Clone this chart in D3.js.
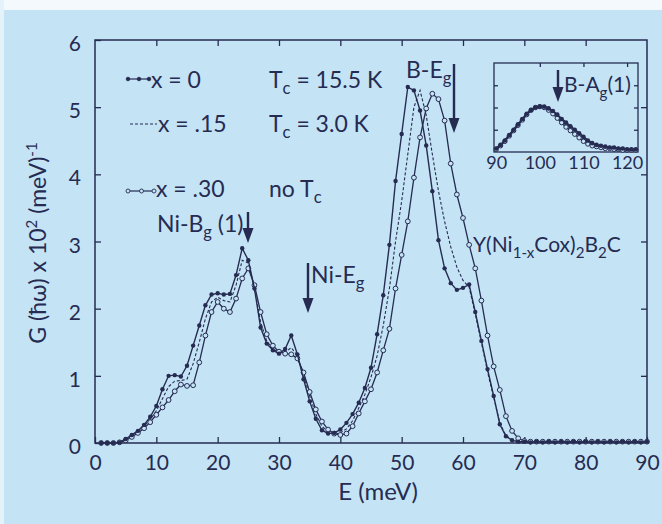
<!DOCTYPE html>
<html>
<head>
<meta charset="utf-8">
<script src="https://cdn.jsdelivr.net/npm/d3@7"></script>
<style>
  html, body { margin: 0; padding: 0; background: #c4e4f5; }
  svg { display: block; font-family: Lato, "Noto Sans", sans-serif; }
</style>
</head>
<body>
<svg id="chart" width="662" height="524"></svg>
<script>
// Phonon density of states G(E) for Y(Ni1-xCox)2B2C, E = 1..90 meV
const energy = d3.range(1, 91);

const gX000 = [
  0.00, 0.00, 0.00, 0.01, 0.06, 0.12, 0.18, 0.27, 0.39, 0.55,
  0.80, 1.00, 1.01, 0.99, 1.15, 1.45, 1.75, 2.05, 2.21, 2.23,
  2.21, 2.22, 2.50, 2.90, 2.72, 2.30, 1.72, 1.48, 1.38, 1.33,
  1.40, 1.60, 1.32, 0.95, 0.62, 0.36, 0.19, 0.14, 0.15, 0.20,
  0.30, 0.43, 0.60, 0.82, 1.12, 1.62, 2.20, 2.95, 3.90, 4.60,
  5.30, 5.25, 4.95, 4.43, 3.75, 3.02, 2.60, 2.38, 2.28, 2.31,
  2.36, 1.95, 1.52, 1.10, 0.70, 0.28, 0.10, 0.04, 0.02, 0.02,
  0.01, 0.02, 0.01, 0.02, 0.01, 0.02, 0.01, 0.02, 0.01, 0.02,
  0.01, 0.02, 0.01, 0.02, 0.01, 0.02, 0.01, 0.02, 0.01, 0.02
];

const gX015 = [
  0.00, 0.00, 0.00, 0.01, 0.05, 0.11, 0.17, 0.25, 0.35, 0.48,
  0.66, 0.84, 0.92, 0.93, 0.95, 1.18, 1.50, 1.85, 2.10, 2.17,
  2.12, 2.10, 2.35, 2.72, 2.68, 2.30, 1.80, 1.52, 1.40, 1.35,
  1.35, 1.42, 1.30, 1.00, 0.70, 0.43, 0.25, 0.16, 0.13, 0.15,
  0.21, 0.33, 0.52, 0.72, 0.98, 1.30, 1.75, 2.30, 3.00, 3.60,
  4.30, 5.00, 5.25, 4.88, 4.30, 3.75, 3.30, 2.92, 2.62, 2.42,
  2.32, 1.92, 1.50, 1.06, 0.68, 0.30, 0.11, 0.05, 0.02, 0.01,
  0.01, 0.01, 0.01, 0.01, 0.01, 0.01, 0.01, 0.01, 0.01, 0.01,
  0.01, 0.01, 0.01, 0.01, 0.01, 0.01, 0.01, 0.01, 0.01, 0.01
];

const gX030 = [
  0.00, 0.00, 0.00, 0.01, 0.04, 0.09, 0.15, 0.22, 0.31, 0.42,
  0.53, 0.64, 0.77, 0.87, 0.85, 0.86, 1.20, 1.60, 1.95, 2.10,
  2.00, 1.95, 2.15, 2.45, 2.60, 2.35, 1.95, 1.62, 1.45, 1.36,
  1.33, 1.32, 1.26, 1.05, 0.76, 0.50, 0.32, 0.20, 0.14, 0.12,
  0.14, 0.25, 0.44, 0.62, 0.80, 1.05, 1.38, 1.70, 2.30, 2.80,
  3.30, 3.95, 4.55, 4.98, 5.20, 5.12, 4.80, 4.16, 3.70, 3.35,
  2.95, 2.60, 2.12, 1.60, 1.14, 0.79, 0.40, 0.18, 0.07, 0.03,
  0.02, 0.02, 0.02, 0.02, 0.02, 0.02, 0.02, 0.02, 0.02, 0.02,
  0.02, 0.02, 0.02, 0.02, 0.02, 0.02, 0.02, 0.02, 0.02, 0.02
];

// B-Ag(1) region shown in the inset, E = 90..122 meV (relative units)
const insetEnergy = d3.range(90, 123);
const insetX000 = [
  0.04, 0.08, 0.13, 0.19, 0.25, 0.31, 0.37, 0.43, 0.47, 0.50,
  0.51, 0.51, 0.49, 0.46, 0.42, 0.37, 0.33, 0.29, 0.25, 0.21,
  0.17, 0.13, 0.10, 0.08, 0.07, 0.06, 0.05, 0.05, 0.04, 0.04,
  0.03, 0.03, 0.03
];
const insetX030 = [
  0.03, 0.07, 0.12, 0.18, 0.24, 0.30, 0.36, 0.42, 0.47, 0.50,
  0.51, 0.50, 0.47, 0.43, 0.38, 0.33, 0.28, 0.24, 0.20, 0.16,
  0.12, 0.09, 0.07, 0.06, 0.05, 0.04, 0.04, 0.03, 0.03, 0.02,
  0.02, 0.02, 0.02
];

const xTicks = [0, 10, 20, 30, 40, 50, 60, 70, 80, 90];
const yTicks = [0, 1, 2, 3, 4, 5, 6];
const insetTicks = [90, 100, 110, 120];

const INK = "#262b52";
const BG = "#c4e4f5";

const svg = d3.select("#chart");

// paper edges
svg.append("rect").attr("width", 662).attr("height", 524).attr("fill", BG);
svg.append("rect").attr("width", 662).attr("height", 10).attr("fill", "#f3f9fc");
svg.append("rect").attr("width", 4).attr("height", 524).attr("fill", "#e4f2fa");

const plot = { left: 95, right: 647, top: 40, bottom: 443 };
const x = d3.scaleLinear().domain([0, 90]).range([plot.left, plot.right]);
const y = d3.scaleLinear().domain([0, 6]).range([plot.bottom, plot.top]);
const intFmt = d3.format("d");

// frame
svg.append("rect")
  .attr("x", plot.left).attr("y", plot.top)
  .attr("width", plot.right - plot.left).attr("height", plot.bottom - plot.top)
  .attr("fill", "none").attr("stroke", INK).attr("stroke-width", 1.5);

// axes with inward ticks
const axisStyle = g => {
  g.select(".domain").remove();
  g.selectAll(".tick line").attr("stroke", INK).attr("stroke-width", 1.3);
  g.selectAll(".tick text").attr("fill", INK).attr("font-size", 21).attr("font-family", "Lato, sans-serif");
};
svg.append("g").attr("transform", `translate(0,${plot.bottom})`)
  .call(d3.axisBottom(x).tickValues(xTicks).tickFormat(intFmt).tickSizeInner(-6).tickSizeOuter(0).tickPadding(12))
  .call(axisStyle);
svg.append("g").attr("transform", `translate(0,${plot.top})`)
  .call(d3.axisTop(x).tickValues(xTicks.slice(1, -1)).tickSizeInner(-6).tickSizeOuter(0).tickFormat(""))
  .call(axisStyle);
svg.append("g").attr("transform", `translate(${plot.left},0)`)
  .call(d3.axisLeft(y).tickValues(yTicks).tickFormat(intFmt).tickSizeInner(-6).tickSizeOuter(0).tickPadding(14))
  .call(axisStyle)
  .call(g => g.selectAll(".tick text").attr("dy", "0.5em"));
svg.append("g").attr("transform", `translate(${plot.right},0)`)
  .call(d3.axisRight(y).tickValues(yTicks.slice(1, -1)).tickSizeInner(-6).tickSizeOuter(0).tickFormat(""))
  .call(axisStyle);

// axis titles
svg.append("text").attr("x", 378).attr("y", 500).attr("text-anchor", "middle")
  .attr("fill", INK).attr("font-size", 24).text("E (meV)");

const yTitle = svg.append("text")
  .attr("transform", "translate(46,243) rotate(-90)")
  .attr("text-anchor", "middle").attr("fill", INK).attr("font-size", 23);
yTitle.append("tspan").text("G (\u0127\u03C9) x 10");
yTitle.append("tspan").attr("dy", -9).attr("font-size", 15).text("2");
yTitle.append("tspan").attr("dy", 9).text(" (meV)");
yTitle.append("tspan").attr("dy", -9).attr("font-size", 15).text("-1");

// series
const line = (xs, ys, sx, sy) => d3.line().x((d, i) => sx(xs[i])).y(d => sy(d))(ys);

svg.append("path").attr("d", line(energy, gX015, x, y))
  .attr("fill", "none").attr("stroke", INK).attr("stroke-width", 1.1)
  .attr("stroke-dasharray", "3,2");

svg.append("path").attr("d", line(energy, gX030, x, y))
  .attr("fill", "none").attr("stroke", INK).attr("stroke-width", 1.3);
svg.append("g").selectAll("circle").data(gX030).join("circle")
  .attr("cx", (d, i) => x(energy[i])).attr("cy", d => y(d)).attr("r", 2.4)
  .attr("fill", BG).attr("stroke", INK).attr("stroke-width", 1);

svg.append("path").attr("d", line(energy, gX000, x, y))
  .attr("fill", "none").attr("stroke", INK).attr("stroke-width", 1.4);
svg.append("g").selectAll("circle").data(gX000).join("circle")
  .attr("cx", (d, i) => x(energy[i])).attr("cy", d => y(d)).attr("r", 2.2)
  .attr("fill", INK);

// arrows marking modes
function arrow(px, y0, y1) {
  svg.append("line").attr("x1", px).attr("x2", px).attr("y1", y0).attr("y2", y1 - 12)
    .attr("stroke", INK).attr("stroke-width", 2.4);
  svg.append("path").attr("d", `M${px - 5.5},${y1 - 15} L${px + 5.5},${y1 - 15} L${px},${y1} Z`)
    .attr("fill", INK);
}
arrow(248, 212, 243);
arrow(308, 263, 313);
arrow(454, 64, 133);

// text with subscripts
function label(px, py, parts, size) {
  const t = svg.append("text").attr("x", px).attr("y", py).attr("fill", INK).attr("font-size", size);
  let shift = 0;
  parts.forEach(p => {
    const dy = (p.sub ? 6 : 0) - shift;
    shift = p.sub ? 6 : 0;
    t.append("tspan").attr("dy", dy).attr("font-size", p.sub ? size * 0.72 : size).text(p.t);
  });
  return t;
}
label(157, 232, [{ t: "Ni-B" }, { t: "g", sub: true }, { t: " (1)" }], 23);
label(311, 283, [{ t: "Ni-E" }, { t: "g", sub: true }], 23);
label(406, 78, [{ t: "B-E" }, { t: "g", sub: true }], 23);
label(473, 252, [{ t: "Y(Ni" }, { t: "1-x", sub: true }, { t: "Cox)" }, { t: "2", sub: true },
  { t: "B" }, { t: "2", sub: true }, { t: "C" }], 21);

// legend
const legendRows = [
  { y: 79, label: "x = 0", tc: "T", tcRest: " = 15.5 K", base: 88, x0: 128, x1: 150, kind: "filled" },
  { y: 124, label: "x = .15", tc: "T", tcRest: " = 3.0 K", base: 132, x0: 130, x1: 157, kind: "dash" },
  { y: 191, label: "x = .30", tc: "no T", tcRest: "", base: 197, x0: 128, x1: 155, kind: "open" }
];
legendRows.forEach(r => {
  const seg = svg.append("line").attr("x1", r.x0).attr("x2", r.x1).attr("y1", r.y).attr("y2", r.y)
    .attr("stroke", INK).attr("stroke-width", r.kind === "dash" ? 1 : 1.2);
  if (r.kind === "dash") seg.attr("stroke-dasharray", "3,2");
  if (r.kind !== "dash") {
    [r.x0, (r.x0 + r.x1) / 2, r.x1 - 1].forEach(cx => {
      svg.append("circle").attr("cx", cx).attr("cy", r.y).attr("r", r.kind === "filled" ? 1.8 : 2)
        .attr("fill", r.kind === "filled" ? INK : BG).attr("stroke", INK).attr("stroke-width", 0.9);
    });
  }
  svg.append("text").attr("x", r.x1 + 1).attr("y", r.base).attr("fill", INK).attr("font-size", 23).text(r.label);
  label(269, r.base, [{ t: r.tc }, { t: "c", sub: true }, { t: r.tcRest }], 23);
});

// inset
const inset = { left: 494, right: 638, top: 63, bottom: 152 };
const ix = d3.scaleLinear().domain([89.5, 122.5]).range([inset.left, inset.right]);
const iy = d3.scaleLinear().domain([0, 1]).range([inset.bottom, inset.top]);
svg.append("rect").attr("x", inset.left).attr("y", inset.top)
  .attr("width", inset.right - inset.left).attr("height", inset.bottom - inset.top)
  .attr("fill", BG).attr("stroke", INK).attr("stroke-width", 1.3);
svg.append("g").attr("transform", `translate(0,${inset.bottom})`)
  .call(d3.axisBottom(ix).tickValues(insetTicks).tickFormat(intFmt).tickSizeInner(0).tickSizeOuter(0).tickPadding(4))
  .call(g => {
    g.select(".domain").remove();
    g.selectAll(".tick text").attr("fill", INK).attr("font-size", 18).attr("font-family", "Lato, sans-serif");
  });
svg.append("g").attr("transform", `translate(0,${inset.top})`)
  .call(d3.axisTop(ix).tickValues(insetTicks.slice(1)).tickSizeInner(-4).tickSizeOuter(0).tickFormat(""))
  .call(axisStyle);
[d3.axisLeft, d3.axisRight].forEach((ax, k) => {
  svg.append("g").attr("transform", `translate(${k ? inset.right : inset.left},0)`)
    .call(ax(iy).tickValues([0.25, 0.5, 0.75]).tickSizeInner(-4).tickSizeOuter(0).tickFormat(""))
    .call(axisStyle);
});
svg.append("path").attr("d", line(insetEnergy, insetX030, ix, iy))
  .attr("fill", "none").attr("stroke", INK).attr("stroke-width", 1.6);
svg.append("g").selectAll("circle").data(insetX030).join("circle")
  .attr("cx", (d, i) => ix(insetEnergy[i])).attr("cy", d => iy(d)).attr("r", 2.2)
  .attr("fill", BG).attr("stroke", INK).attr("stroke-width", 1);
svg.append("path").attr("d", line(insetEnergy, insetX000, ix, iy))
  .attr("fill", "none").attr("stroke", INK).attr("stroke-width", 2);
svg.append("g").selectAll("circle").data(insetX000).join("circle")
  .attr("cx", (d, i) => ix(insetEnergy[i])).attr("cy", d => iy(d)).attr("r", 2.3)
  .attr("fill", INK);
arrow(558, 70, 102);
label(564, 92, [{ t: "B-A" }, { t: "g", sub: true }, { t: "(1)" }], 21);
</script>
</body>
</html>
